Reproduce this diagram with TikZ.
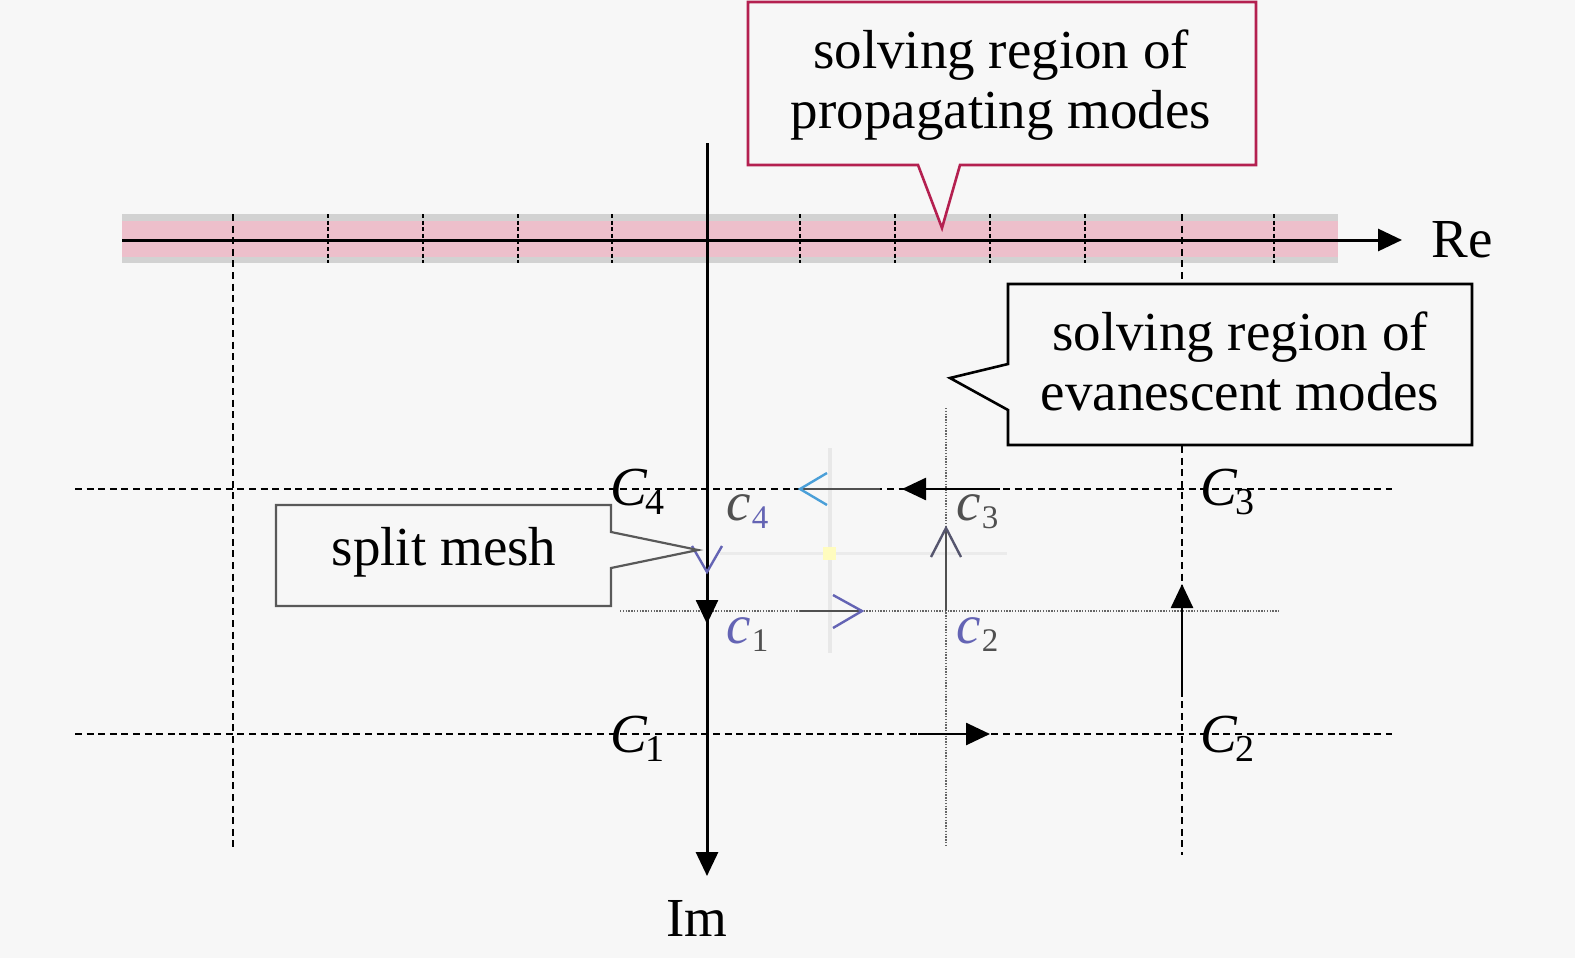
\documentclass[tikz,border=0pt]{standalone}
\usepackage{fontspec}
\setmainfont{Liberation Serif}
\usetikzlibrary{arrows.meta}
\definecolor{bg}{HTML}{F7F7F7}
\definecolor{bandpink}{HTML}{EDBFCB}
\definecolor{bandgray}{HTML}{D2D2D2}
\definecolor{crim}{HTML}{B42050}
\definecolor{meshblue}{HTML}{6464B4}
\definecolor{lblue}{HTML}{4A9FD8}
\definecolor{dgray}{HTML}{505050}
\newcommand{\Clab}[1]{\textit{C}\kern-0.04em\raisebox{-4.5pt}{\fontsize{19}{20}\selectfont #1}}
\newcommand{\clab}[3]{\textcolor{#1}{\textit{c}}\kern0.02em\raisebox{-4pt}{\textcolor{#2}{\fontsize{16.5}{18}\selectfont #3}}}
\begin{document}
\begin{tikzpicture}[x=0.5pt,y=-0.5pt,
  font=\fontsize{27.5}{30}\selectfont,
  dsh/.style={line width=1.3pt, dash pattern=on 3.5pt off 2.3pt},
  tickdsh/.style={line width=0.9pt, dash pattern=on 2pt off 1.3pt},
  dotl/.style={line width=0.8pt, black!60, dash pattern=on 0.7pt off 0.7pt},
  bigtip/.style={-{Triangle[length=12pt,width=11pt]}, line width=1.3pt},
  lab/.style={inner sep=0pt, anchor=base west},
  callout/.style={fill=bg, line width=1.3pt}]
\useasboundingbox (0,0) rectangle (1575,958);
\fill[bg] (0,0) rectangle (1575,958);
% band
\fill[bandgray] (122,214) rectangle (1338,263);
\fill[bandpink] (122,221) rectangle (1338,257);
\foreach \x in {328,423,518,612,800,895,990,1085,1274}
  \draw[tickdsh] (\x,214) -- (\x,263);
% long dashed lines
\draw[dsh] (233,214) -- (233,848);
\draw[dsh] (1182,214) -- (1182,855);
\draw[dsh] (75,489) -- (1392,489);
\draw[dsh] (75,734) -- (1392,734);
% light lines of split mesh
\draw[line width=2pt, black!9] (830,448) -- (830,653);
\draw[line width=1.5pt, black!8] (720,553) -- (1007,553);
\fill[yellow!25] (823,547) rectangle (836,560);
% dotted small contour
\draw[dotl] (620,611) -- (1280,611);
\draw[dotl] (946,408) -- (946,845);
% axes
\coordinate (reS) at (122,240);
\coordinate (reE) at (1402,240);
\coordinate (imS) at (707,143);
\coordinate (imE) at (707,876);
\draw[bigtip, line width=1.5pt] (reS) -- (reE);
\draw[bigtip, line width=1.5pt] (imS) -- (imE);
\node (re) at (1462,240) {Re};
\node (im) at (697,918) {Im};
% big contour arrows
\draw[bigtip] (707,590) -- (707,624);
\draw[bigtip] (918,734) -- (990,734);
\draw[bigtip] (1182,690) -- (1182,584);
\draw[bigtip] (1000,489) -- (902,489);
% small contour arrows
\draw[line width=1pt, dgray] (800,611) -- (862,611);
\draw[line width=1.2pt, meshblue, line join=miter] (833,595) -- (862,611) -- (833,628);
\draw[line width=1pt, dgray] (946,611) -- (946,528);
\draw[line width=1.2pt, dgray!70!meshblue] (931,557) -- (946,528) -- (961,557);
\draw[line width=1pt, dgray] (800,489) -- (880,489);
\draw[line width=1.2pt, lblue] (827,473) -- (800,489) -- (827,505);
\draw[line width=1.2pt, meshblue] (692,546) -- (707,572) -- (722,546);
% labels
\node[lab] (C4) at (610,505) {\Clab{4}};
\node[lab] (C3) at (1200,505) {\Clab{3}};
\node[lab] (C1) at (610,752) {\Clab{1}};
\node[lab] (C2) at (1200,752) {\Clab{2}};
\node[lab] (c4) at (726,520) {\clab{dgray}{meshblue}{4}};
\node[lab] (c3) at (956,520) {\clab{dgray}{dgray}{3}};
\node[lab] (c1) at (726,643) {\clab{meshblue}{dgray}{1}};
\node[lab] (c2) at (956,643) {\clab{meshblue}{dgray}{2}};
% callouts
\draw[callout, draw=crim] (748,2) -- (1256,2) -- (1256,165) -- (960,165) -- (942,228) -- (918,165) -- (748,165) -- cycle;
\node[align=center] (prop) at (1001,85) {solving region of\\propagating modes};
\draw[callout, draw=black] (1008,284) -- (1472,284) -- (1472,445) -- (1008,445) -- (1008,410) -- (950,378) -- (1008,364) -- cycle;
\node[align=center] (evan) at (1240,361) {solving region of\\evanescent modes};
\draw[callout, draw=black!65, line width=1.1pt] (276,505) -- (611,505) -- (611,532) -- (698,550) -- (611,568) -- (611,606) -- (276,606) -- cycle;
\node (split) at (444,552) {split mesh};
\end{tikzpicture}
\end{document}
